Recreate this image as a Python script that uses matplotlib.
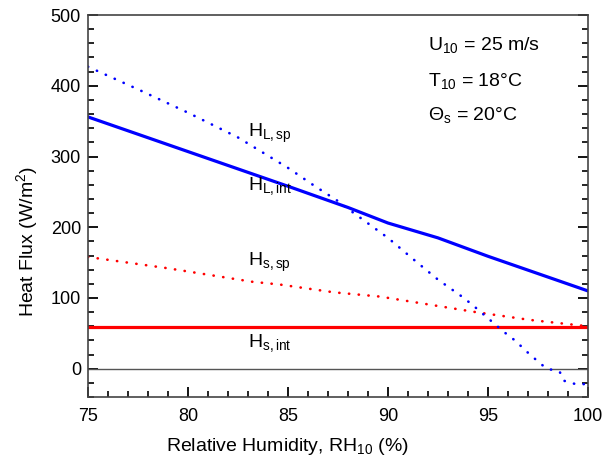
import numpy as np
import matplotlib.pyplot as plt

plt.rcParams['font.family'] = ['Liberation Sans', 'DejaVu Sans']
plt.rcParams['mathtext.fontset'] = 'custom'
plt.rcParams['mathtext.rm'] = 'Liberation Sans'
plt.rcParams['mathtext.it'] = 'Liberation Sans'
plt.rcParams['mathtext.bf'] = 'Liberation Sans'

# latent heat flux, interfacial (solid blue)
rh_lint = [75, 80, 85, 88, 90, 92.5, 95, 100]
h_lint = [356, 307, 258, 228, 206, 185, 159, 110]

# latent heat flux, spray (dotted blue)
rh_lsp = [75, 77.5, 80, 82.5, 85, 86.3, 87.5, 88.2, 90, 91.3, 92.5,
          93.8, 94.4, 95.8, 96.35, 97.1, 97.85, 98.1, 98.35, 98.6, 98.8,
          99.07, 99.35, 99.6, 99.85, 100]
h_lsp = [427, 395, 362, 327, 284, 259, 237, 222, 185, 154, 126,
         100, 86, 52, 40, 20, 2, -1, -2, -5, -17,
         -19, -21.5, -22.5, -21.5, -20]

# sensible heat flux, spray (dotted red)
rh_ssp = [75, 79, 83.2, 84.6, 87.3, 89.6, 94.4, 97.1, 100]
h_ssp = [158, 142, 123, 119, 108, 102, 80, 69, 60]

# sensible heat flux, interfacial (solid red)
rh_sint = [75, 100]
h_sint = [59, 59]

fig = plt.figure(figsize=(6.15, 4.63), dpi=100)
ax = fig.add_axes([0.143, 0.1425, 0.813, 0.825])

dots = (0, (0.1, 3.6))
ax.axhline(0, color='#555555', lw=1.0)
ax.plot(rh_sint, h_sint, color='#ff0000', lw=2.3)
ax.plot(rh_ssp, h_ssp, color='#ff0000', lw=1.9, linestyle=dots, dash_capstyle='round')
ax.plot(rh_lsp, h_lsp, color='#0000ff', lw=1.9, linestyle=dots, dash_capstyle='round')
ax.plot(rh_lint, h_lint, color='#0000ff', lw=2.3)

fs = 14
ax.text(83.0, 332, r'H$_{\mathrm{L,sp}}$', fontsize=fs, va='center')
ax.text(83.0, 258, r'H$_{\mathrm{L,int}}$', fontsize=fs, va='center')
ax.text(83.0, 150, r'H$_{\mathrm{s,sp}}$', fontsize=fs, va='center')
ax.text(83.0, 37, r'H$_{\mathrm{s,int}}$', fontsize=fs, va='center')

ax.text(92.0, 457, r'U$_{10}$ = 25 m/s', fontsize=fs, va='center')
ax.text(92.0, 407, r'T$_{10}$ = 18°C', fontsize=fs, va='center')
ax.text(92.0, 358, r'Θ$_{\mathrm{s}}$ = 20°C', fontsize=fs, va='center')

ax.set_xlim(75, 100)
ax.set_ylim(-40, 500)
ax.set_xticks(np.arange(75, 101, 5))
ax.set_xticks(np.arange(75, 101, 1), minor=True)
ax.set_yticks(np.arange(0, 501, 100))
ax.set_yticks(np.arange(-40, 501, 20), minor=True)

ax.tick_params(which='both', direction='in', left=True, right=True, top=False,
               bottom=True, color='black', labelsize=13)
ax.tick_params(which='major', length=7, width=1.3)
ax.tick_params(which='minor', length=4, width=1.2)
ax.tick_params(axis='x', pad=8)
ax.tick_params(axis='y', pad=5)
for s in ax.spines.values():
    s.set_color('#444444')
    s.set_linewidth(1.2)

ax.set_xlabel('Relative Humidity, RH$_{10}$ (%)', fontsize=14, labelpad=8, x=0.4)
ax.set_ylabel('Heat Flux (W/m$^{2}$)', fontsize=14, labelpad=8, y=0.406)

fig.savefig('out.png', dpi=100)
